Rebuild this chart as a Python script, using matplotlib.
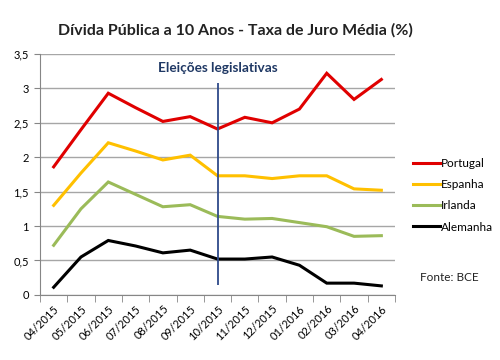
import matplotlib
matplotlib.use("Agg")
import matplotlib.pyplot as plt
import numpy as np

months = ["04/2015", "05/2015", "06/2015", "07/2015", "08/2015", "09/2015", "10/2015",
          "11/2015", "12/2015", "01/2016", "02/2016", "03/2016", "04/2016"]
portugal = [1.86, 2.40, 2.93, 2.72, 2.52, 2.59, 2.41, 2.58, 2.50, 2.70, 3.22, 2.84, 3.13]
espanha = [1.30, 1.77, 2.21, 2.09, 1.96, 2.03, 1.73, 1.73, 1.69, 1.73, 1.73, 1.54, 1.52]
irlanda = [0.72, 1.25, 1.64, 1.46, 1.28, 1.31, 1.14, 1.10, 1.11, 1.05, 0.99, 0.85, 0.86]
alemanha = [0.11, 0.55, 0.79, 0.71, 0.61, 0.65, 0.52, 0.52, 0.55, 0.43, 0.17, 0.17, 0.13]
yticks = [0, 0.5, 1, 1.5, 2, 2.5, 3, 3.5]
ytick_labels = ["0", "0,5", "1", "1,5", "2", "2,5", "3", "3,5"]
election_idx = 6
election_range = (0.15, 3.08)

plt.rcParams['font.family'] = ['Lato', 'DejaVu Sans']

fig = plt.figure(figsize=(5, 3.6), dpi=100)
ax = fig.add_axes([0.08, 0.181, 0.71, 0.669])

x = np.arange(len(months))
series = [("Portugal", portugal, "#E00000"),
          ("Espanha", espanha, "#FFC000"),
          ("Irlanda", irlanda, "#9BBB59"),
          ("Alemanha", alemanha, "#000000")]
for name, vals, col in series:
    ax.plot(x, vals, color=col, lw=2.2, label=name, solid_joinstyle='miter')

ax.vlines(election_idx, election_range[0], election_range[1], color="#2E4A8A", lw=1.3)
ax.text(election_idx, 3.3, "Eleições legislativas", ha='center', va='center',
        color="#1F3864", fontsize=9.8, fontweight='bold')

ax.set_xlim(-0.5, len(months) - 0.5)
ax.set_ylim(0, 3.5)
ax.set_yticks(yticks)
ax.set_yticklabels(ytick_labels, fontsize=8)
ax.yaxis.grid(True, color="#A6A6A6", lw=1)
ax.set_axisbelow(True)

ax.set_xticks(x)
ax.set_xticklabels(months, rotation=45, ha='right', rotation_mode='anchor', fontsize=8)
ax.tick_params(axis='x', which='major', length=0, pad=6)
ax.set_xticks(np.arange(-0.5, len(months)), minor=True)
ax.tick_params(axis='x', which='minor', length=5, color="#868686", direction='out')
ax.tick_params(axis='y', length=4, color="#868686", pad=4)

for s in ['top', 'right']:
    ax.spines[s].set_visible(False)
for s in ['left', 'bottom']:
    ax.spines[s].set_color("#868686")

fig.text(0.47, 0.915, "Dívida Pública a 10 Anos - Taxa de Juro Média (%)",
         ha='center', va='center', fontsize=11.5, fontweight='bold', color="#222222")

leg = ax.legend(loc='center left', bbox_to_anchor=(1.05, 0.413), frameon=False,
                fontsize=8.5, handlelength=2.3, handletextpad=0.1, labelspacing=0.86,
                borderaxespad=0, borderpad=0)
fig.text(0.84, 0.228, "Fonte: BCE", ha='left', va='center', fontsize=8.5, color="#222222")

fig.savefig("out.png", dpi=100)
